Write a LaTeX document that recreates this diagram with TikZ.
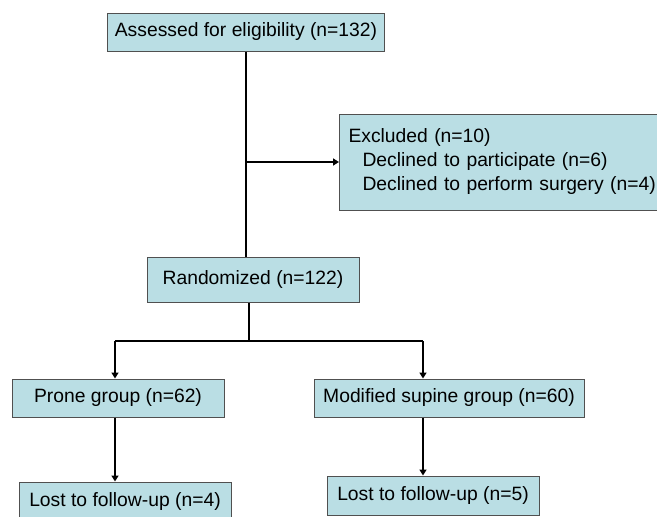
\documentclass[tikz,border=0pt]{standalone}
\usepackage{fontspec}
\setmainfont{Liberation Sans}
\usetikzlibrary{arrows.meta}
\definecolor{boxfill}{RGB}{186,222,228}
\definecolor{boxline}{RGB}{80,80,80}
\tikzset{
 box/.style={draw=boxline,line width=1pt,fill=boxfill,inner sep=0pt,minimum height=38pt,font=\fontsize{19.3}{24}\selectfont},
 link/.style={line width=2.8pt},
 arr/.style={link,-{Triangle[length=6pt,width=7pt]}}
}

\begin{document}
\begin{tikzpicture}[x=1pt,y=-1pt]
 \clip (0,0) rectangle (657,517);
 \node[box,minimum width=277pt] (assess) at (246,32) {Assessed for eligibility (n=132)};
 \node[box,anchor=west,align=left,text width=312pt,inner xsep=9pt,minimum height=96pt] (excl) at (339,162)
  {Excluded (n=10)\\\hspace*{14pt}Declined to participate (n=6)\\\hspace*{14pt}Declined to perform surgery (n=4)};
 \node[box,minimum width=212pt,minimum height=45pt] (rand) at (253,279.5) {Randomized (n=122)};
 \node[box,minimum width=212pt] (prone) at (118,398) {Prone group (n=62)};
 \node[box,minimum width=270pt] (supine) at (449,398) {Modified supine group (n=60)};
 \node[box,minimum width=212pt,minimum height=39pt] (lostp) at (125,501.5) {Lost to follow-up (n=4)};
 \node[box,minimum width=212pt,minimum height=39pt] (losts) at (433,495.5) {Lost to follow-up (n=5)};
 \coordinate (split) at (249,341);
 \coordinate (jl) at (115,341);
 \coordinate (jr) at (423,341);
 \draw[link] (assess.south) -- (assess.south |- rand.north);
 \draw[arr] (assess.south |- excl.west) -- (excl.west);
 \draw[link] (split |- rand.south) -- (split);
 \draw[link] (jl) -- (jr);
 \draw[arr] (jl) -- (jl |- prone.north);
 \draw[arr] (jr) -- (jr |- supine.north);
 \draw[arr] (jl |- prone.south) -- (jl |- lostp.north);
 \draw[arr] (jr |- supine.south) -- (jr |- losts.north);
\end{tikzpicture}
\end{document}
